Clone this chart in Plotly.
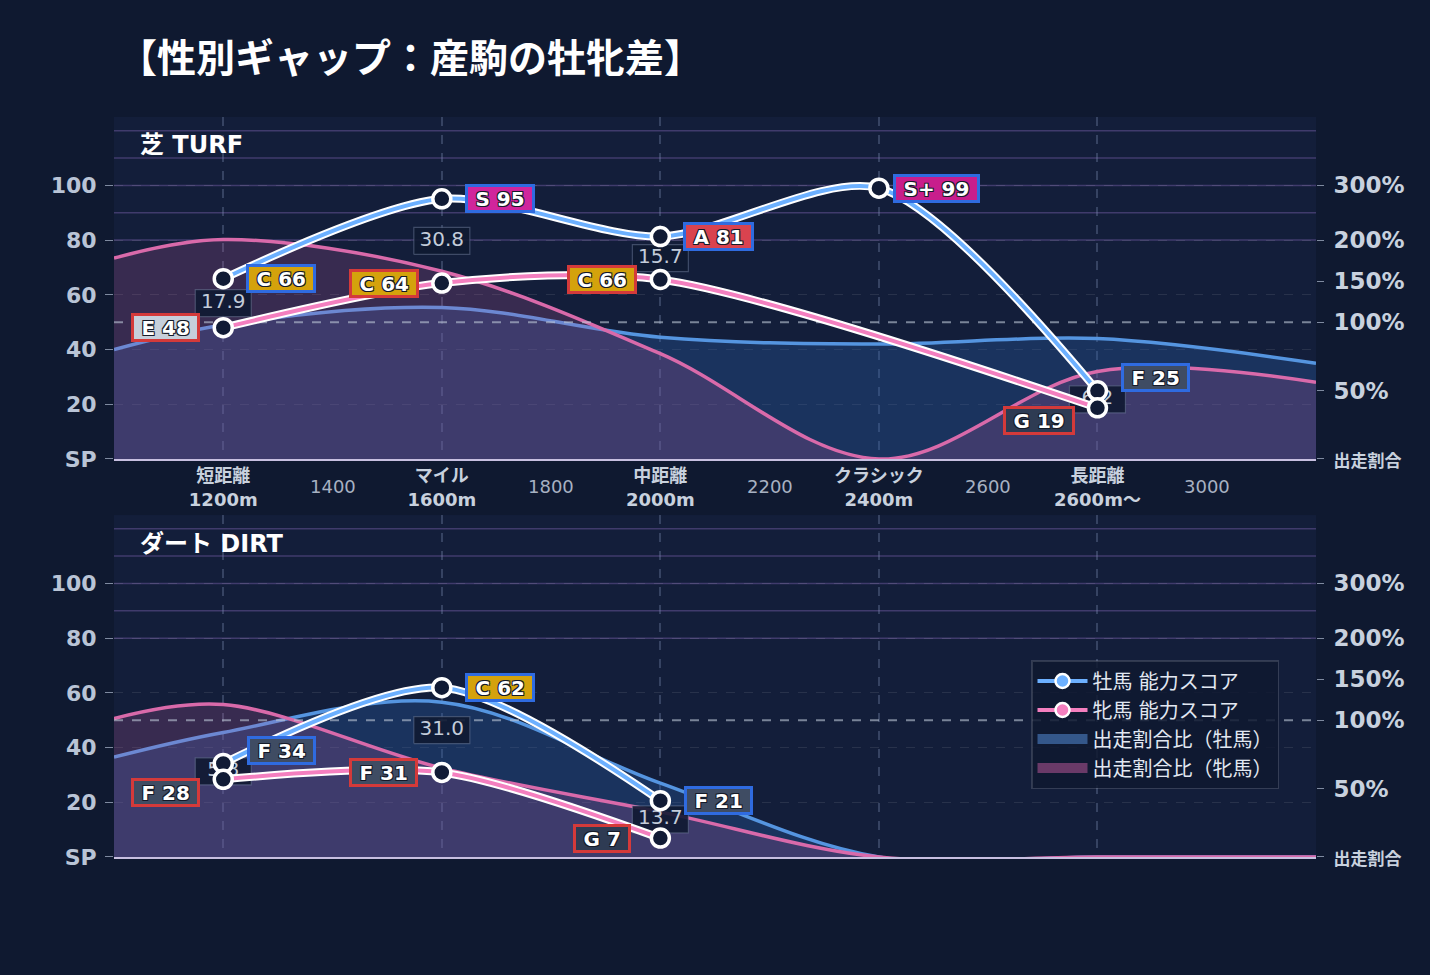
import numpy as np
import plotly.graph_objects as go
from plotly.subplots import make_subplots

# distance categories (numeric x axis)
dist = [1200, 1600, 2000, 2400, 2800]
major_labels = ['短距離<br>1200m', 'マイル<br>1600m', '中距離<br>2000m', 'クラシック<br>2400m', '長距離<br>2600m〜']
minor_ticks = [1400, 1800, 2200, 2600, 3000]

# ability scores (None = no data)
turf_male = [65.9, 95.1, 81.3, 99.0, 24.9]
turf_female = [48.0, 64.3, 65.6, None, 18.7]
dirt_male = [34.2, 61.9, 20.6, None, None]
dirt_female = [28.4, 30.9, 6.9, None, None]

# run share ratio in % (curves run to the axis edges)
ratio_x = [1000, 1200, 1600, 2000, 2400, 2800, 3200]
turf_ratio_male = [80, 98, 118, 89, 84, 88, 70]
turf_ratio_female = [178, 201, 162, 77, 0, 64, 56]
dirt_ratio_male = [73, 91, 122, 54, 0, 0, 0]
dirt_ratio_female = [102, 119, 65, 33, 0, 0, 0]

# right axis: % value -> position on score scale
pct_ticks = [0, 50, 100, 150, 200, 300]
pct_pos = [0, 25, 50, 65, 80, 100]

score_ticks = [0, 20, 40, 60, 80, 100]
rank_lines = [80, 90, 100, 110, 120]

rank_cuts = [(97, 'S+'), (90, 'S'), (80, 'A'), (70, 'B'), (60, 'C'), (50, 'D'), (40, 'E'), (20, 'F'), (0, 'G')]
rank_bg = {'S+': '#c81e8c', 'S': '#d0259c', 'A': '#d9434f', 'B': '#e07a2a', 'C': '#d4a20c',
           'D': '#7a8aa0', 'E': '#c6cfdb', 'F': '#3f4c63', 'G': '#2e3b53'}

PAPER = '#0f1930'
PLOT = '#131e3a'
FONT = 'DejaVu Sans, Noto Sans CJK JP, sans-serif'
MALE = '#6cb0ff'
FEMALE = '#f47fbf'
MALE_RATIO = '#5595e0'
FEMALE_RATIO = '#d96aaa'
SHADOW = '1px 1px 0 #151a28, -1px -1px 0 #151a28, 1px -1px 0 #151a28, -1px 1px 0 #151a28'

X_RANGE = [1000, 3200]
Y_RANGE = [0, 125]
px_x = (X_RANGE[1] - X_RANGE[0]) / 1202
px_y = (Y_RANGE[1] - Y_RANGE[0]) / 342

# rough DejaVu Sans Bold advance widths (em) for badge sizing
glyph_w = {' ': 0.348, '+': 0.838, 'S': 0.720, 'A': 0.774, 'B': 0.762, 'C': 0.734, 'D': 0.830,
           'E': 0.683, 'F': 0.683, 'G': 0.821}
BADGE_FS = 20


def rank_of(v):
    for th, r in rank_cuts:
        if v >= th:
            return r


def to_pos(pcts):
    return list(np.interp(pcts, pct_ticks, pct_pos))


def badge_width(s):
    return sum(glyph_w.get(c, 0.696) for c in s) * BADGE_FS + 15


fig = make_subplots(rows=2, cols=1, vertical_spacing=0.0757,
                    specs=[[{"secondary_y": True}], [{"secondary_y": True}]])

panels = [
    dict(row=1, title='芝 TURF', male=turf_male, female=turf_female,
         rm=turf_ratio_male, rf=turf_ratio_female, xref='x', yref='y'),
    dict(row=2, title='ダート DIRT', male=dirt_male, female=dirt_female,
         rm=dirt_ratio_male, rf=dirt_ratio_female, xref='x2', yref='y3'),
]

for p in panels:
    row = p['row']
    first = row == 1
    # run share areas
    fig.add_trace(go.Scatter(x=ratio_x, y=to_pos(p['rm']), mode='lines', fill='tozeroy',
                             fillcolor='rgba(45,95,170,0.32)', line=dict(color=MALE_RATIO, width=3.5, shape='spline'),
                             showlegend=False, hoverinfo='skip'), row=row, col=1)
    fig.add_trace(go.Scatter(x=ratio_x, y=to_pos(p['rf']), mode='lines', fill='tozeroy',
                             fillcolor='rgba(190,90,160,0.22)', line=dict(color=FEMALE_RATIO, width=3.5, shape='spline'),
                             showlegend=False, hoverinfo='skip'), row=row, col=1)
    # 100% reference line
    fig.add_trace(go.Scatter(x=X_RANGE, y=[pct_pos[2]] * 2, mode='lines', showlegend=False, hoverinfo='skip',
                             line=dict(color='rgba(190,200,215,0.6)', width=2, dash='dash')),
                  row=row, col=1)

    # gap boxes between the two scores
    bx, by, tx, ty, tt = [], [], [], [], []
    for d, m, f in zip(dist, p['male'], p['female']):
        if m is None or f is None:
            continue
        mid = (m + f) / 2
        hw, hh = 28 * px_x, 13.5 * px_y
        bx += [d - hw, d + hw, d + hw, d - hw, d - hw, None]
        by += [mid - hh, mid - hh, mid + hh, mid + hh, mid - hh, None]
        tx.append(d)
        ty.append(mid)
        tt.append(f'{m - f:.1f}')
    fig.add_trace(go.Scatter(x=bx, y=by, mode='lines', fill='toself', fillcolor='rgba(16,26,50,0.9)',
                             line=dict(color='rgba(120,135,165,0.45)', width=1.2), showlegend=False,
                             hoverinfo='skip'), row=row, col=1)
    fig.add_trace(go.Scatter(x=tx, y=ty, mode='text', text=tt, showlegend=False, hoverinfo='skip',
                             textfont=dict(size=20, color='#c3ccda', family=FONT)), row=row, col=1)

    # ability score lines
    for vals, col in [(p['male'], MALE), (p['female'], FEMALE)]:
        fig.add_trace(go.Scatter(x=dist, y=vals, mode='lines', connectgaps=True, showlegend=False,
                                 hoverinfo='skip', line=dict(color='white', width=8, shape='spline', smoothing=0.8)),
                      row=row, col=1)
        fig.add_trace(go.Scatter(x=dist, y=vals, mode='lines+markers', connectgaps=True, showlegend=False,
                                 line=dict(color=col, width=4, shape='spline', smoothing=0.8),
                                 marker=dict(size=18, color='#111b35', line=dict(color='white', width=3.5))),
                      row=row, col=1)

    # rank badges
    for d, m, f in zip(dist, p['male'], p['female']):
        close = m is not None and f is not None and abs(m - f) < 10
        for v, side, border in [(m, 1, '#2f6be0'), (f, -1, '#d43a3a')]:
            if v is None:
                continue
            r = rank_of(v)
            label = f'{r} {round(v)}'
            fig.add_annotation(x=d, y=v, xref=p['xref'], yref=p['yref'], showarrow=False,
                               text=f'<b>{label}</b>', xshift=58 * side,
                               yshift=(13 * side if close else 0),
                               font=dict(size=BADGE_FS, color='white', family=FONT, shadow=SHADOW),
                               bgcolor=rank_bg[r], bordercolor=border, borderwidth=3, borderpad=0,
                               width=badge_width(label), height=23)

    # panel title
    fig.add_annotation(xref='paper', x=(138 - 114) / 1202, yref='paper',
                       y=(857 - (145 if first else 544)) / 740, xanchor='left', yanchor='middle',
                       text=f'<b>{p["title"]}</b>', showarrow=False,
                       font=dict(size=24, color='white', family=FONT))

    # rank boundary lines
    for rl in rank_lines:
        fig.add_shape(type='line', x0=0, x1=1, xref=p['xref'] + ' domain', y0=rl, y1=rl, yref=p['yref'],
                      line=dict(color='rgba(120,95,170,0.45)', width=1.5), layer='below')

    # secondary (right) axis anchor trace
    fig.add_trace(go.Scatter(x=[None], y=[None], showlegend=False, hoverinfo='skip'),
                  row=row, col=1, secondary_y=True)

    # axes
    fig.update_xaxes(range=X_RANGE, domain=[0, 1], tickvals=dist,
                     ticktext=[f'<b>{t}</b>' for t in major_labels] if first else None,
                     showticklabels=first, tickfont=dict(size=18, color='#c8d1de', family=FONT),
                     showgrid=True, gridcolor='rgba(130,145,185,0.32)', gridwidth=2, griddash='dash',
                     ticks='', showline=True,
                     linecolor='#c7bfe0', linewidth=1.5, zeroline=False, row=row, col=1)
    fig.update_yaxes(range=Y_RANGE, tickvals=score_ticks,
                     ticktext=['SP'] + [str(t) for t in score_ticks[1:]],
                     tickfont=dict(size=22, color='#b9c4d6', family=FONT, weight='bold'),
                     ticks='outside', ticklen=8, tickcolor='#7f8aa0', ticklabelstandoff=4,
                     gridcolor='rgba(255,255,255,0.09)', griddash='dash', zeroline=False,
                     row=row, col=1, secondary_y=False)
    fig.update_yaxes(range=Y_RANGE, tickvals=pct_pos,
                     ticktext=['<span style="font-size:17px">出走割合</span>'] + [f'{t}%' for t in pct_ticks[1:]],
                     tickfont=dict(size=23, color='#c8d1de', family=FONT, weight='bold'),
                     ticks='outside', ticklen=7, tickcolor='#7f8aa0', ticklabelstandoff=5,
                     showgrid=False, zeroline=False,
                     row=row, col=1, secondary_y=True)

# minor distance labels
for t in minor_ticks:
    fig.add_annotation(x=t, xref='x', y=(857 - 486) / 740, yref='paper', text=str(t), showarrow=False,
                       yanchor='middle', font=dict(size=18, color='#a7b1c2', family=FONT))

# legend-only entries
fig.add_trace(go.Scatter(x=[None], y=[None], mode='lines+markers', name='牡馬 能力スコア',
                         line=dict(color=MALE, width=4),
                         marker=dict(size=14, color=MALE, line=dict(color='white', width=2.5))), row=1, col=1)
fig.add_trace(go.Scatter(x=[None], y=[None], mode='lines+markers', name='牝馬 能力スコア',
                         line=dict(color=FEMALE, width=4),
                         marker=dict(size=14, color=FEMALE, line=dict(color='white', width=2.5))), row=1, col=1)
fig.add_trace(go.Scatter(x=[None], y=[None], mode='lines', name='出走割合比（牡馬）',
                         line=dict(color='#34578a', width=14)), row=1, col=1)
fig.add_trace(go.Scatter(x=[None], y=[None], mode='lines', name='出走割合比（牝馬）',
                         line=dict(color='#6a3a68', width=14)), row=1, col=1)

fig.update_layout(
    width=1430, height=975,
    paper_bgcolor=PAPER, plot_bgcolor=PLOT,
    font=dict(family=FONT, color='#c8d1de'),
    margin=dict(l=114, r=114, t=117, b=118),
    title=dict(text='<b>【性別ギャップ：産駒の牡牝差】</b>', x=118 / 1430, xref='container', xanchor='left',
               y=1 - 58 / 975, yanchor='middle', font=dict(size=39, color='white', family=FONT)),
    legend=dict(x=(1031 - 114) / 1202, y=(857 - 660) / 740, xanchor='left', yanchor='top',
                bgcolor='rgba(15,25,48,0.85)', bordercolor='rgba(255,255,255,0.14)', borderwidth=1.5,
                font=dict(size=20, color='#e2e8f2', family=FONT), itemwidth=50),
    hovermode=False,
)

fig.write_html("out.html", config={'displayModeBar': False},
               post_script="document.body.style.margin='0';document.body.style.background='#0f1930';")
